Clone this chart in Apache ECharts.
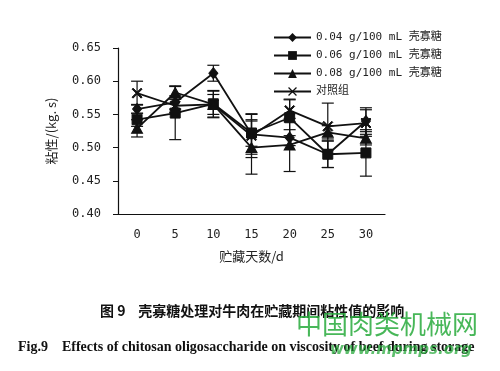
<!DOCTYPE html>
<html><head><meta charset="utf-8">
<script src="https://cdn.jsdelivr.net/npm/echarts@6/dist/echarts.min.js"></script>
<style>html,body{margin:0;padding:0;background:#fff}#c{width:500px;height:371px}</style>
</head><body><div id="c"></div>
<script>
var categories = ['0','5','10','15','20','25','30'];
var seriesNames = ['0.04 g/100 mL 壳寡糖','0.06 g/100 mL 壳寡糖','0.08 g/100 mL 壳寡糖','对照组'];
var dose004 = [0.558,0.568,0.612,0.520,0.515,0.490,0.540];
var dose006 = [0.542,0.552,0.566,0.522,0.545,0.490,0.492];
var dose008 = [0.529,0.583,0.565,0.500,0.504,0.523,0.514];
var control = [0.582,0.563,0.565,0.518,0.556,0.532,0.537];
var err004 = [0.007,0.010,0.012,0.030,0.012,0.020,0.020];
var err006 = [0.010,0.040,0.020,0.020,0.027,0.020,0.035];
var err008 = [0.013,0.010,0.015,0.040,0.040,0.010,0.010];
var errCtl = [0.018,0.010,0.020,0.033,0.017,0.035,0.020];
var yTicks = ['0.40','0.45','0.50','0.55','0.60','0.65'];

var xSym = 'path://M0,1 L1,0 L5,4 L9,0 L10,1 L6,5 L10,9 L9,10 L5,6 L1,10 L0,9 L4,5 Z';
var values = [dose004, dose006, dose008, control];
var errs = [err004, err006, err008, errCtl];
var symbols = ['diamond','rect',"triangle", xSym];
var sizes = [[9,11],[10,10],[11,10],[10,10]];

var series = [];
values.forEach(function(v, si){
  var e = errs[si];
  series.push({
    type:'custom', silent:true, z:1,
    data: v.map(function(y,i){return [i, y-e[i], y+e[i]];}),
    renderItem: function(params, api){
      var lo = api.coord([api.value(0), api.value(1)]);
      var hi = api.coord([api.value(0), api.value(2)]);
      var w = 6;
      var st = {stroke:'#111', lineWidth:1.2};
      return {type:'group', children:[
        {type:'line', shape:{x1:lo[0],y1:lo[1],x2:hi[0],y2:hi[1]}, style:st},
        {type:'line', shape:{x1:lo[0]-w,y1:lo[1],x2:lo[0]+w,y2:lo[1]}, style:st},
        {type:'line', shape:{x1:hi[0]-w,y1:hi[1],x2:hi[0]+w,y2:hi[1]}, style:st}
      ]};
    }
  });
});
values.forEach(function(v, si){
  series.push({
    name: seriesNames[si], type:'line', data:v, z:3,
    symbol: symbols[si], symbolSize: sizes[si], showSymbol:true,
    lineStyle:{color:'#111', width:1.8},
    itemStyle:{color:'#111', borderColor:'#111'},
    animation:false
  });
});

var chart = echarts.init(document.getElementById('c'), null, {renderer:'canvas'});
chart.setOption({
  animation:false,
  backgroundColor:'#fff',
  grid:{left:118, right:115, top:48, bottom:157, containLabel:false},
  legend:{
    orient:'vertical', left:268, top:27, itemWidth:37, itemHeight:11, itemGap:7,
    data: seriesNames,
    textStyle:{fontFamily:'DejaVu Sans Mono, Noto Sans CJK SC', fontSize:11, color:'#222'},
    inactiveColor:'#111'
  },
  xAxis:{
    type:'category', data:categories, boundaryGap:true,
    name:'贮藏天数/d', nameLocation:'middle', nameGap:36,
    nameTextStyle:{fontFamily:'Noto Sans CJK SC', fontSize:13, color:'#222'},
    axisLine:{lineStyle:{color:'#111', width:1.2}},
    axisTick:{inside:true, length:5, lineStyle:{color:'#111'}},
    axisLabel:{margin:15, fontFamily:'DejaVu Sans Mono', fontSize:12, color:'#222'},
    splitLine:{show:false}
  },
  yAxis:{
    type:'value', min:0.40, max:0.65, interval:0.05,
    name:'粘性/(kg. s)', nameLocation:'middle', nameGap:60, nameRotate:90,
    nameTextStyle:{fontFamily:'Noto Sans CJK SC', fontSize:13, color:'#222'},
    axisLine:{show:true, lineStyle:{color:'#111', width:1.2}},
    axisTick:{show:true, length:5, lineStyle:{color:'#111'}},
    axisLabel:{margin:17, fontFamily:'DejaVu Sans Mono', fontSize:12, color:'#222',
      formatter:function(v){ var i=Math.round((v-0.40)/0.05); return yTicks[i]; }},
    splitLine:{show:false}
  },
  graphic:[
    {type:'text', left:100, top:304, style:{text:'图 9    壳寡糖处理对牛肉在贮藏期间粘性值的影响', font:'bold 14px "Noto Sans CJK SC"', fill:'#111'}},
    {type:'text', left:296, top:311, z:10, style:{text:'中国肉类机械网', font:'26px "Noto Sans CJK SC"', fill:'rgba(40,170,60,0.85)'}},
    {type:'text', left:18, top:340, style:{text:'Fig.9    Effects of chitosan oligosaccharide on viscosity of beef during storage', font:'bold 14px "Liberation Serif"', fill:'#111'}},
    {type:'text', left:330, top:343, z:10, style:{text:'www.mpmps.org', font:'italic bold 15px "DejaVu Sans"', fill:'rgba(40,170,60,0.75)'}}
  ],
  series: series
});
</script></body></html>
